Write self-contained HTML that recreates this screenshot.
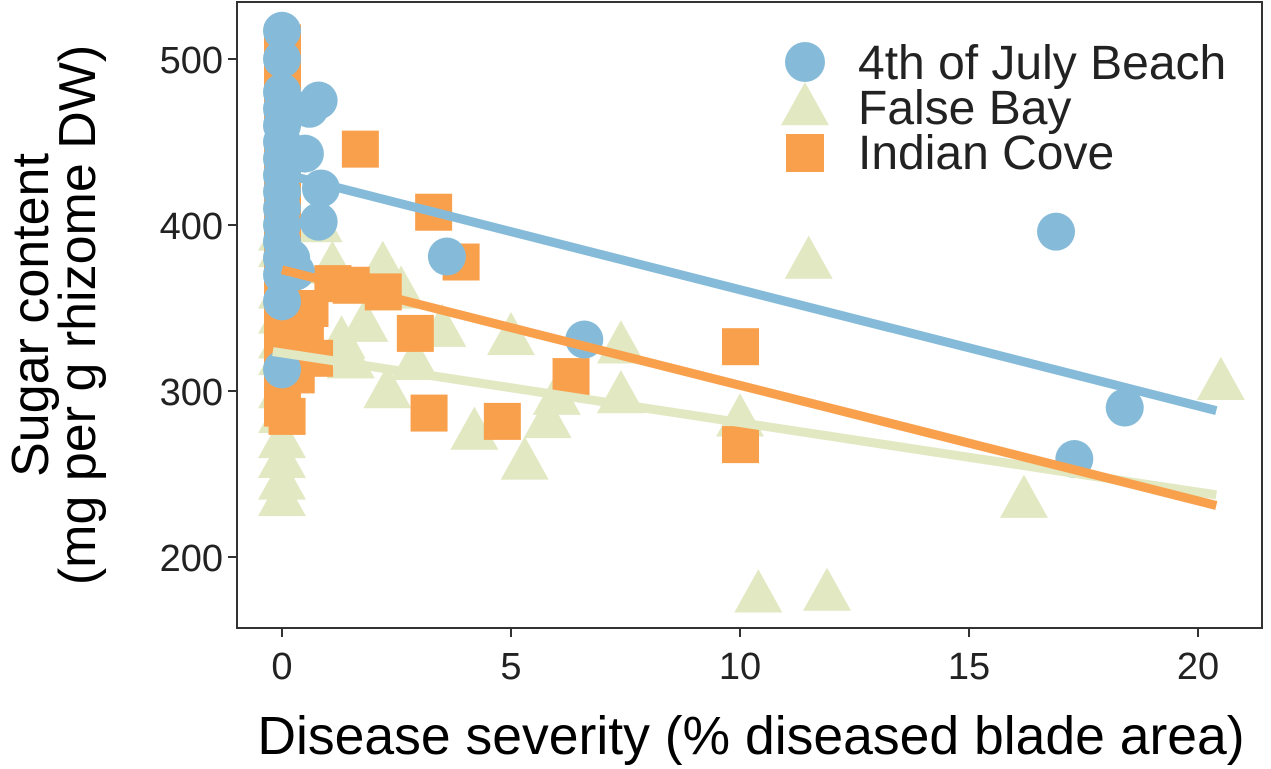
<!DOCTYPE html>
<html><head><meta charset="utf-8"><style>
body{margin:0;background:#fff}
svg text{font-family:"Liberation Sans",sans-serif;fill:#222}
</style></head><body>
<svg id="chart" width="1271" height="769" xmlns="http://www.w3.org/2000/svg" style="position:absolute;left:0;top:0">
<g id="plot"></g>
<g id="axes"></g>
</svg>
<script>
const xTicks=[0,5,10,15,20];
const yTicks=[200,300,400,500];
const beachX=[0,0,0,0,0,0,0,0,0,0,0,0,0,0,0,0,0.8,0.6,0.5,0.85,0.8,0.3,0.2,3.6,6.6,16.9,18.4,17.3];
const beachY=[517,500,480,470,460,450,440,430,420,410,400,390,380,370,354,313,475,470,443,422,402,372,380,381,331,396,290,259];
const bayX=[0,0,0,0,0,0,0,0,0,0,0,0,0.8,1.1,1.3,1.5,1.8,2.2,2.6,2.3,2.9,3.5,4.2,5.0,5.3,5.8,6.0,7.4,7.4,10.0,10.4,11.5,11.9,16.2,20.5];
const bayY=[395,385,360,345,330,320,300,285,270,258,245,235,400,375,330,318,340,375,360,300,317,337,275,332,257,282,296,327,297,283,177,378,178,234,305];
const coveX=[0,0,0,0,0,0,0,0,0,0,0,0,1.7,3.3,3.9,1.5,2.2,0.5,0.6,0.3,0.7,2.9,3.2,4.8,6.3,10.0,10.0,0.1,1.1];
const coveY=[510,490,470,440,420,400,380,360,340,320,300,290,446,408,378,364,360,340,350,310,320,335,287,282,309,327,268,285,365];
const fitIntercept=[431,322.9,373];
const fitSlope=[-7.0,-4.19,-6.96];
const fitMinX=[0,-0.2,0];
const fitMaxX=[20.4,20.4,20.4];
const seriesNames=["4th of July Beach","False Bay","Indian Cove"];
const colors=["#85bbd9","#e1e8c2","#f9a04d"];

const X=v=>282+45.8*v, Y=v=>59+(500-v)*1.66;
const NS="http://www.w3.org/2000/svg";
const plot=document.getElementById('plot'), axes=document.getElementById('axes');
function mk(tag,attrs,parent){const e=document.createElementNS(NS,tag);for(const k in attrs)e.setAttribute(k,attrs[k]);parent.appendChild(e);return e;}
function tri(cx,cy,s){const h=s*0.9;return `${cx},${cy-h*0.6} ${cx-s/2},${cy+h*0.4} ${cx+s/2},${cy+h*0.4}`;}

bayX.forEach((v,i)=>{const e=mk('polygon',{points:tri(X(v),Y(bayY[i]),48),fill:colors[1]},plot);

});
coveX.forEach((v,i)=>{const e=mk('rect',{x:X(v)-18,y:Y(coveY[i])-18,width:37,height:37,fill:colors[2]},plot);

});
beachX.forEach((v,i)=>{const e=mk('circle',{cx:X(v),cy:Y(beachY[i]),r:19,fill:colors[0]},plot);

});
[1,2,0].forEach(s=>{const x1=fitMinX[s],x2=fitMaxX[s];
const e=mk('line',{x1:X(x1),y1:Y(fitIntercept[s]+fitSlope[s]*x1),x2:X(x2),y2:Y(fitIntercept[s]+fitSlope[s]*x2),stroke:colors[s],'stroke-width':9},plot);

});

let f=mk('rect',{x:237,y:2,width:1025,height:626,fill:'none',stroke:'#333','stroke-width':2},axes);


xTicks.forEach(t=>{mk('line',{x1:X(t),x2:X(t),y1:628,y2:637,stroke:'#333','stroke-width':2},axes);
const e=mk('text',{x:X(t),y:679,'text-anchor':'middle','font-size':38,fill:'#4d4d4d'},axes);e.textContent=t;

});
yTicks.forEach(t=>{mk('line',{x1:228,x2:237,y1:Y(t),y2:Y(t),stroke:'#333','stroke-width':2},axes);
const e=mk('text',{x:223,y:Y(t)+14,'text-anchor':'end','font-size':38,fill:'#4d4d4d'},axes);e.textContent=t;

});
const lg=mk('g',{},axes);


mk('circle',{cx:805,cy:62,r:20,fill:colors[0]},lg);
mk('polygon',{points:tri(805,108,48),fill:colors[1]},lg);
mk('rect',{x:786,y:134,width:38,height:38,fill:colors[2]},lg);
seriesNames.forEach((n,i)=>{const e=mk('text',{x:858,y:79+i*45,'font-size':48},lg);e.textContent=n;

});
</script>
<svg style="position:absolute;left:0;top:0" width="1271" height="769">
<text x="751" y="754" text-anchor="middle" font-size="53.5" style="font-family:'Liberation Sans',sans-serif;fill:#000">Disease severity (% diseased blade area)</text>
<g transform="translate(48,315) rotate(-90)"><text x="0" y="0" text-anchor="middle" font-size="52" style="font-family:'Liberation Sans',sans-serif;fill:#000">Sugar content</text></g>
<g transform="translate(95,315) rotate(-90)"><text x="0" y="0" text-anchor="middle" font-size="52" style="font-family:'Liberation Sans',sans-serif;fill:#000">(mg per g rhizome DW)</text></g>
</svg>
</body></html>
